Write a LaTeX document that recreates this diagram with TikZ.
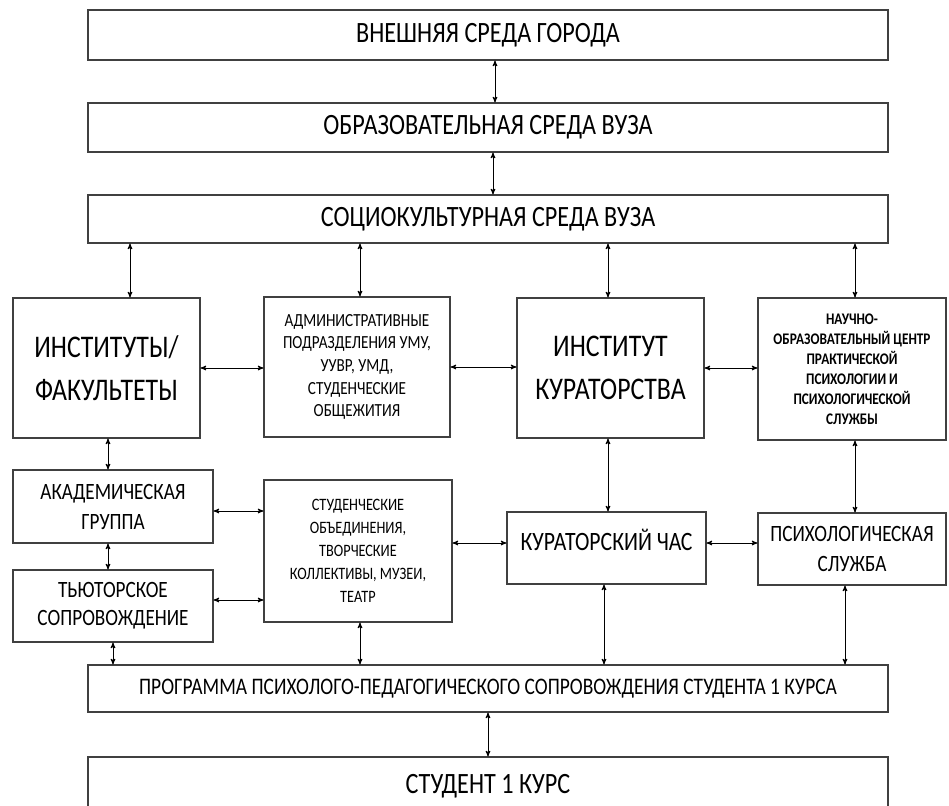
\documentclass[tikz,border=0pt]{standalone}
\usepackage{fontspec}
\setmainfont{Carlito}[FakeStretch=0.82]
\usepackage{tikz}
\usetikzlibrary{arrows, calc}
\tikzset{>=stealth', font=\fontsize{18.5}{22.6}\selectfont}
\tikzset{box/.style={draw=black!75, line width=1.1pt, fill=white,
    align=center, inner sep=2pt}}
\tikzset{wide/.style={box, minimum width=800pt, font=\fontsize{29.5}{32}\selectfont}}
\tikzset{link/.style={<->, line width=1pt}}

\begin{document}
\begin{tikzpicture}[x=1pt, y=-1pt]
      \clip (0,0) rectangle (949,805);
      % levels of the environment
      \node[wide, minimum height=50pt] (city) at (488,35) {ВНЕШНЯЯ СРЕДА ГОРОДА};
      \node[wide, minimum height=49pt] (edu) at (488,127.5) {ОБРАЗОВАТЕЛЬНАЯ СРЕДА ВУЗА};
      \node[wide, minimum height=48pt] (soc) at (488,219) {СОЦИОКУЛЬТУРНАЯ СРЕДА ВУЗА};
      % second row
      \node[box, minimum width=187pt, minimum height=140pt,
        font=\fontsize{31.5}{43}\selectfont] (inst) at (106.5,368) {ИНСТИТУТЫ/\\ФАКУЛЬТЕТЫ};
      \node[box, minimum width=186pt, minimum height=140pt] (adm) at (357,367)
        {АДМИНИСТРАТИВНЫЕ\\ПОДРАЗДЕЛЕНИЯ УМУ,\\УУВР, УМД,\\СТУДЕНЧЕСКИЕ\\ОБЩЕЖИТИЯ};
      \node[box, minimum width=187pt, minimum height=140pt,
        font=\fontsize{31.5}{43}\selectfont] (kur) at (610.5,368) {ИНСТИТУТ\\КУРАТОРСТВА};
      \node[box, minimum width=188pt, minimum height=142pt,
        font=\bfseries\fontsize{16.2}{20}\selectfont] (noc) at (852,369)
        {НАУЧНО-\\ОБРАЗОВАТЕЛЬНЫЙ ЦЕНТР\\ПРАКТИЧЕСКОЙ\\ПСИХОЛОГИИ И\\ПСИХОЛОГИЧЕСКОЙ\\СЛУЖБЫ};
      % third row
      \node[box, minimum width=200pt, minimum height=73pt,
        font=\fontsize{23.4}{30}\selectfont] (acad) at (113,506.5) {АКАДЕМИЧЕСКАЯ\\ГРУППА};
      \node[box, minimum width=200pt, minimum height=72pt,
        font=\fontsize{23.4}{28}\selectfont] (tut) at (113,606) {ТЬЮТОРСКОЕ\\СОПРОВОЖДЕНИЕ};
      \node[box, minimum width=188pt, minimum height=142pt,
        font=\fontsize{17.4}{23}\selectfont] (stud) at (358,551)
        {СТУДЕНЧЕСКИЕ\\ОБЪЕДИНЕНИЯ,\\ТВОРЧЕСКИЕ\\КОЛЛЕКТИВЫ, МУЗЕИ,\\ТЕАТР};
      \node[box, minimum width=199pt, minimum height=72pt, text depth=17pt,
        font=\fontsize{26.5}{30}\selectfont] (hour) at (606.5,548) {КУРАТОРСКИЙ ЧАС};
      \node[box, minimum width=188pt, minimum height=72pt,
        font=\fontsize{23.4}{30}\selectfont] (psy) at (852,549) {ПСИХОЛОГИЧЕСКАЯ\\СЛУЖБА};
      % programme and student
      \node[wide, minimum height=47pt, font=\fontsize{23.7}{26}\selectfont] (prog) at (488,688.5)
        {ПРОГРАММА ПСИХОЛОГО-ПЕДАГОГИЧЕСКОГО СОПРОВОЖДЕНИЯ СТУДЕНТА 1 КУРСА};
      \node[wide, minimum height=73pt, text depth=20pt] (first) at (488,793.5) {СТУДЕНТ 1 КУРС};

      \path[link] ([xshift=7pt]city.south) edge ([xshift=7pt]city.south |- edu.north);
      \path[link] ([xshift=5pt]edu.south) edge ([xshift=5pt]edu.south |- soc.north);
      \path[link] ([xshift=23.5pt]inst.north) edge ([xshift=23.5pt]inst.north |- soc.south);
      \path[link] ([xshift=3pt]adm.north) edge ([xshift=3pt]adm.north |- soc.south);
      \path[link] ([xshift=-2.5pt]kur.north) edge ([xshift=-2.5pt]kur.north |- soc.south);
      \path[link] ([xshift=3pt]noc.north) edge ([xshift=3pt]noc.north |- soc.south);
      \path[link] (inst.east) edge (inst.east -| adm.west);
      \path[link] (adm.east) edge (adm.east -| kur.west);
      \path[link] (kur.east) edge (kur.east -| noc.west);
      \path[link] ([xshift=1.5pt]inst.south) edge ([xshift=1.5pt]inst.south |- acad.north);
      \path[link] ([xshift=-5pt]acad.south) edge ([xshift=-5pt]acad.south |- tut.north);
      \path[link] ([yshift=-4.5pt]acad.east) edge ([yshift=-4.5pt]acad.east -| stud.west);
      \path[link] ([yshift=6pt]tut.east) edge ([yshift=6pt]tut.east -| stud.west);
      \path[link] ([yshift=8pt]stud.east) edge ([yshift=8pt]stud.east -| hour.west);
      \path[link] ([xshift=-2.5pt]kur.south) edge ([xshift=-2.5pt]kur.south |- hour.north);
      \path[link] ([yshift=5pt]hour.east) edge ([yshift=5pt]hour.east -| psy.west);
      \path[link] ([xshift=3pt]noc.south) edge ([xshift=3pt]noc.south |- psy.north);
      \path[link] (tut.south) edge (tut.south |- prog.north);
      \path[link] ([xshift=2pt]stud.south) edge ([xshift=2pt]stud.south |- prog.north);
      \path[link] ([xshift=-2.5pt]hour.south) edge ([xshift=-2.5pt]hour.south |- prog.north);
      \path[link] ([xshift=-7pt]psy.south) edge ([xshift=-7pt]psy.south |- prog.north);
      \path[link] (prog.south) edge (prog.south |- first.north);
    \end{tikzpicture}
\end{document}
